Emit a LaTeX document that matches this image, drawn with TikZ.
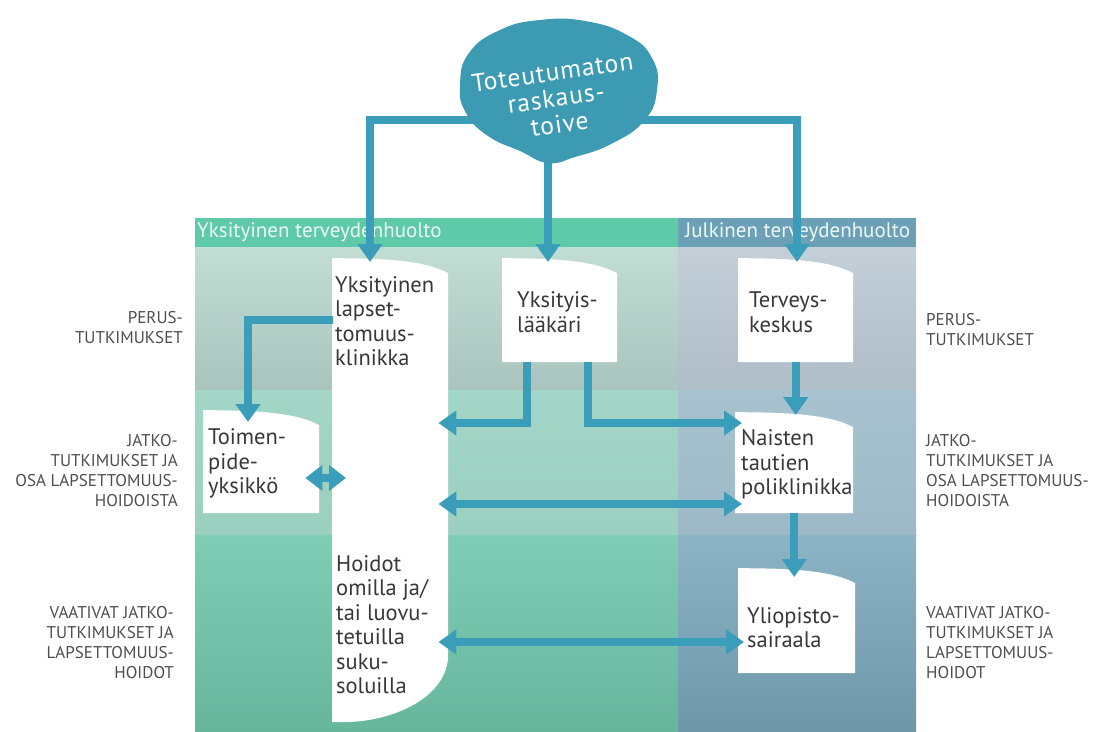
\documentclass[tikz,border=0pt]{standalone}
\usepackage{fontspec}
\setmainfont{PT Sans}
\usetikzlibrary{arrows.meta,calc}
\definecolor{arrowc}{HTML}{3A9DB9}
\definecolor{blobc}{HTML}{3C9BB3}
\definecolor{hdrg}{HTML}{5FCAA8}
\definecolor{hdrb}{HTML}{6BA0B6}
\definecolor{ga}{HTML}{C2DDD4}
\definecolor{gb}{HTML}{A9C4BC}
\definecolor{ba}{HTML}{C4CFD8}
\definecolor{bb}{HTML}{AFBDC6}
\definecolor{gc}{HTML}{A3D6C6}
\definecolor{gd}{HTML}{9BCFBF}
\definecolor{bc}{HTML}{A8C3CF}
\definecolor{bd}{HTML}{9DB9C7}
\definecolor{ge}{HTML}{80CDB6}
\definecolor{gf}{HTML}{66B69C}
\definecolor{be}{HTML}{8CB4C5}
\definecolor{bf}{HTML}{6E97AA}
\definecolor{txtc}{HTML}{383838}
\definecolor{lblc}{HTML}{4E4E4E}
\definecolor{hdrtxt}{HTML}{EEF8F5}
\newcommand\cardfont{\fontsize{22.5}{24.5}\selectfont}
\newcommand\lblfont{\fontsize{17}{20}\selectfont}
\begin{document}
\begin{tikzpicture}[x=1pt,y=-1pt,
  arr/.style={draw=arrowc, line width=8pt, -{Triangle[width=24pt,length=18pt]}},
  darr/.style={draw=arrowc, line width=8pt, {Triangle[width=24pt,length=18pt]}-{Triangle[width=24pt,length=18pt]}},
  sdarr/.style={draw=arrowc, line width=8pt, {Triangle[width=25pt,length=17pt]}-{Triangle[width=25pt,length=17pt]}},
  lbl/.style={font=\lblfont, text=lblc, inner sep=0pt},
  hdr/.style={font=\fontsize{21}{23}\selectfont, text=hdrtxt, inner sep=0pt},
  txt/.style={font=\cardfont, text=txtc, align=left, inner sep=0pt},
  card/.style={rectangle, inner ysep=0pt, anchor=north west, align=left, font=\cardfont, text=txtc,
    path picture={\fill[white] (path picture bounding box.north west)
      .. controls ($(path picture bounding box.north west)!0.5!(path picture bounding box.north east)$)
      and ($(path picture bounding box.north east)+(-22,3)$)
      .. ($(path picture bounding box.north east)+(0,15)$)
      -- (path picture bounding box.south east) -- (path picture bounding box.south west) -- cycle;}},
  colshape/.style={rectangle, inner sep=0pt, anchor=north west,
    path picture={\fill[white] (path picture bounding box.north west)
      .. controls ($(path picture bounding box.north west)!0.5!(path picture bounding box.north east)$)
      and ($(path picture bounding box.north east)+(-22,3)$)
      .. ($(path picture bounding box.north east)+(0,15)$)
      -- ($(path picture bounding box.south east)+(0,-68)$)
      .. controls ($(path picture bounding box.south east)+(0,-25)$) and ($(path picture bounding box.south east)+(-55,0)$)
      .. ($(path picture bounding box.south west)+(10,0)$)
      -- (path picture bounding box.south west) -- cycle;}}
]
\useasboundingbox (0,0) rectangle (1102,731);
\fill[white] (0,0) rectangle (1102,731);
% background rows
\shade[top color=ga, bottom color=gb] (195,247) rectangle (678,390);
\shade[top color=ba, bottom color=bb] (678,247) rectangle (916,390);
\shade[top color=gc, bottom color=gd] (195,390) rectangle (678,535);
\shade[top color=bc, bottom color=bd] (678,390) rectangle (916,535);
\shade[top color=ge, bottom color=gf] (195,535) rectangle (678,731);
\shade[top color=be, bottom color=bf] (678,535) rectangle (916,731);
% header
\fill[hdrg] (195,218) rectangle (678,247);
\fill[hdrb] (678,218) rectangle (916,247);
\node[hdr, anchor=west] (hp) at (197,232) {Yksityinen terveydenhuolto};
\node[hdr, anchor=west] (hj) at (685,232) {Julkinen terveydenhuolto};
% side labels
\node[lbl, anchor=north east, align=right] (l1) at (183,311) {PERUS-\\TUTKIMUKSET};
\node[lbl, anchor=north west, align=left] (r1) at (926,313) {PERUS-\\TUTKIMUKSET};
\node[lbl, anchor=north east, align=right] (l2) at (178,434) {JATKO-\\TUTKIMUKSET JA\\OSA LAPSETTOMUUS-\\HOIDOISTA};
\node[lbl, anchor=north west, align=left] (r2) at (926,434) {JATKO-\\TUTKIMUKSET JA\\OSA LAPSETTOMUUS-\\HOIDOISTA};
\node[lbl, anchor=north east, align=right] (l3) at (174,606) {VAATIVAT JATKO-\\TUTKIMUKSET JA\\LAPSETTOMUUS-\\HOIDOT};
\node[lbl, anchor=north west, align=left] (r3) at (926,606) {VAATIVAT JATKO-\\TUTKIMUKSET JA\\LAPSETTOMUUS-\\HOIDOT};
% cards
\node[card, minimum width=115pt, minimum height=104pt, inner xsep=15pt, text width=85pt] (lak) at (502,258) {\rule{0pt}{20pt}Yksityis-\\lääkäri};
\node[card, minimum width=115pt, minimum height=104pt, inner xsep=11pt, text width=93pt] (tk) at (738,258) {\rule{0pt}{20pt}Terveys-\\keskus};
\node[card, minimum width=118pt, minimum height=101pt, inner xsep=6pt, text width=106pt] (nai) at (735,412) {\rule{0pt}{20pt}Naisten\\tautien\\poliklinikka};
\node[card, minimum width=117pt, minimum height=105pt, inner xsep=9pt, text width=99pt] (yli) at (738,568) {\rule{0pt}{30pt}Yliopisto-\\sairaala};
\node[card, minimum width=116pt, minimum height=103pt, inner xsep=5pt, text width=106pt] (toim) at (203,410) {\rule{0pt}{20pt}Toimen-\\pide-\\yksikkö};
\node[colshape, minimum width=116pt, minimum height=464pt] (col) at (332,258) {};
\node[txt, anchor=north west] (klin) at (335,276) {Yksityinen\\lapset-\\tomuus-\\klinikka};
\node[txt, anchor=north west] (hoid) at (336,555) {Hoidot\\omilla ja/\\tai luovu-\\tetuilla\\suku-\\soluilla};
% connectors
\coordinate (gl) at (520,120);
\coordinate (gr) at (600,120);
\coordinate (gb) at (548,150);
\draw[arr] (gl) -| ($(col.north west)+(38,4)$);
\draw[arr] (gb) -- ($(lak.north west)+(46,4)$);
\draw[arr] (gr) -| ($(tk.north west)+(59,4)$);
\draw[arr] ($(col.north west)+(1,62)$) -| ($(toim.north west)+(45,12)$);
\draw[sdarr] ($(toim.north east)+(-14,68)$) -- ($(col.north west)+(14,220)$);
\draw[arr] ($(lak.south west)+(25,0)$) |- ($(col.north east)+(-10,165)$);
\draw[arr] ($(lak.south west)+(86,0)$) |- ($(nai.north west)+(7,11)$);
\draw[arr, shorten >=-3pt] (tk.south) -- (tk.south |- nai.north);
\draw[arr, shorten >=-9pt] (nai.south) -- (nai.south |- yli.north);
\draw[darr] ($(col.north east)+(-10,246)$) -- ($(nai.north west)+(7,92)$);
\draw[darr] ($(col.north east)+(-10,384)$) -- ($(yli.north west)+(6,74)$);
% goal blob
\fill[blobc] plot[smooth cycle, tension=0.8] coordinates {(548,163) (520,151) (488,136) (466,113) (460,85) (469,53) (500,30) (540,20) (585,21) (627,35) (652,58) (657,90) (644,121) (611,144) (575,157)};
\node[font=\fontsize{25.5}{26}\selectfont\addfontfeatures{LetterSpace=4}, text=white, align=center, inner sep=0pt, rotate=8] (goal) at (556,98) {Toteutumaton\\raskaus-\\toive};
\end{tikzpicture}
\end{document}
